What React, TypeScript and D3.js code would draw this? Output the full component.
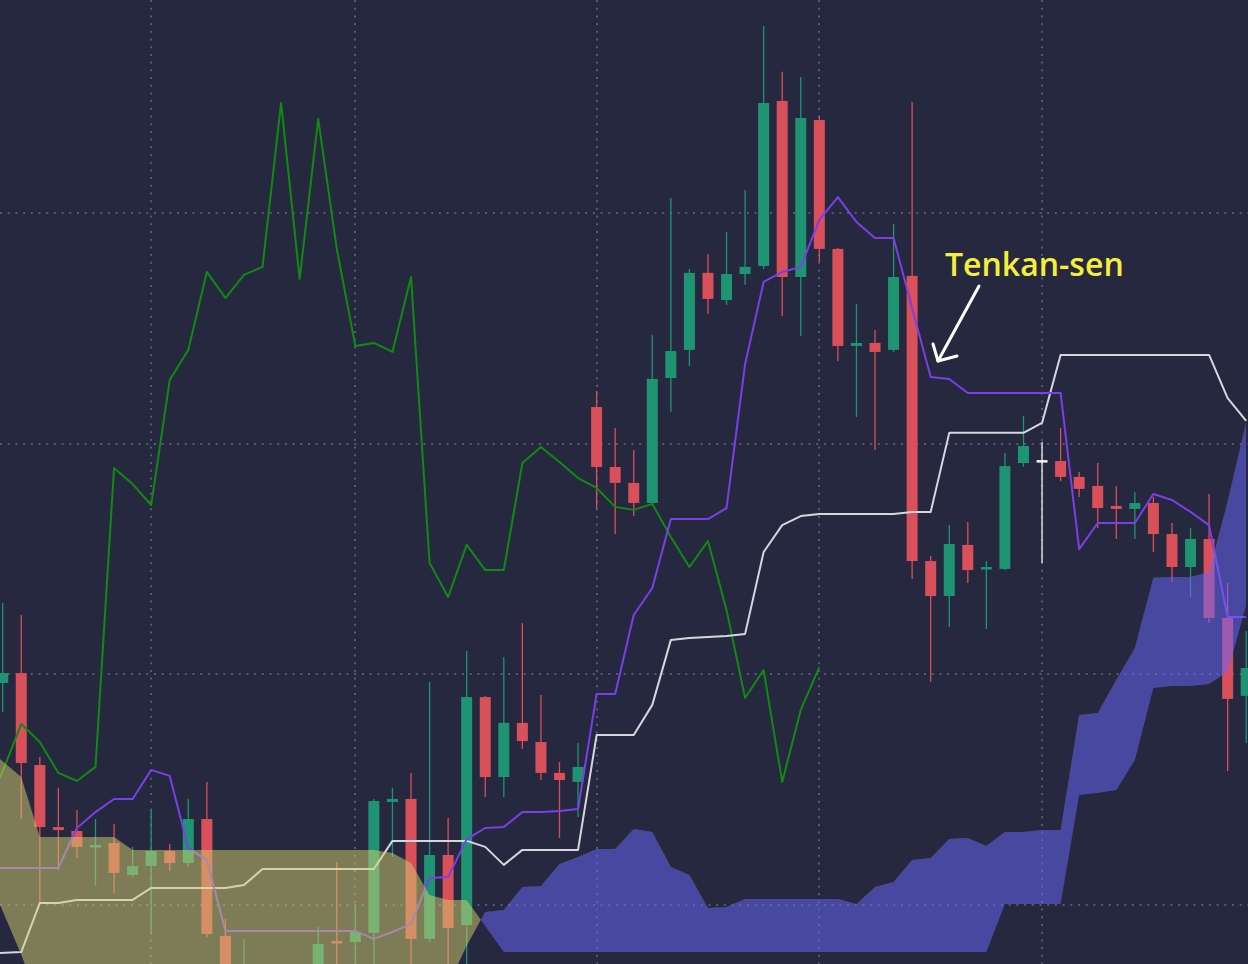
import React from "react";
import * as d3 from "d3";

const WIDTH = 1248;
const HEIGHT = 964;

// ---- OHLC data (68 candles) ----
const opens = [
  196.3, 200.6, 160.7, 133.8, 132.1, 125.6, 126.9, 113.0, 116.9, 123.4,
  118.2, 137.3, 86.6, 54.5, 67.5, 61.0, 63.1, 65.3, 84.4, 83.9,
  87.9, 144.7, 146.0, 85.3, 121.7, 91.3, 190.2, 155.5, 179.0, 170.7,
  157.3, 153.4, 316.0, 290.0, 283.1, 274.4, 328.6, 340.8, 374.2, 362.4,
  373.7, 377.2, 448.8, 372.4, 440.5, 384.6, 342.5, 343.8, 340.8, 372.9,
  249.2, 234.0, 256.2, 245.8, 245.8, 291.7, 292.6, 292.6, 285.7, 281.8,
  273.1, 271.8, 274.4, 260.9, 246.6, 258.8, 224.5, 190.7,
];
const highs = [
  231.0, 225.8, 164.2, 150.8, 141.2, 137.3, 135.1, 125.2, 141.2, 126.5,
  146.0, 153.4, 93.9, 85.3, 71.8, 70.9, 72.7, 90.5, 118.7, 100.0,
  146.0, 150.8, 157.3, 196.7, 137.7, 210.2, 190.7, 207.6, 222.3, 191.1,
  162.0, 170.3, 323.0, 306.9, 297.4, 347.3, 406.7, 375.9, 382.4, 391.9,
  410.2, 481.3, 461.4, 459.2, 442.3, 385.0, 360.7, 349.4, 395.4, 448.3,
  251.4, 264.8, 266.1, 249.2, 296.1, 312.1, 300.8, 306.9, 287.8, 291.7,
  281.8, 279.2, 277.0, 265.7, 263.5, 278.3, 239.7, 218.9,
];
const lows = [
  183.7, 137.3, 100.9, 115.2, 120.4, 108.2, 105.2, 112.1, 87.0, 114.7,
  116.5, 86.1, 24.0, 50.1, 56.6, 57.9, 25.0, 48.3, 56.1, 62.0,
  60.0, 120.8, 57.9, 83.9, 58.5, 63.1, 146.9, 146.9, 167.7, 154.2,
  129.1, 138.2, 271.8, 260.9, 268.7, 273.5, 313.9, 333.8, 356.4, 360.3,
  369.0, 375.9, 355.5, 346.8, 378.9, 336.0, 311.7, 297.4, 339.9, 241.4,
  196.7, 220.6, 239.7, 219.7, 245.3, 290.0, 248.4, 283.9, 277.0, 263.5,
  258.8, 258.8, 253.1, 240.1, 233.6, 222.3, 158.1, 170.3,
];
const closes = [
  200.6, 161.6, 133.8, 132.5, 125.2, 126.0, 113.9, 116.9, 123.4, 118.2,
  137.3, 87.4, 65.3, 69.6, 61.0, 66.6, 69.6, 83.1, 83.5, 88.3,
  145.1, 146.0, 85.3, 121.7, 90.0, 190.2, 155.5, 179.0, 171.1, 157.3,
  154.2, 159.9, 290.0, 283.1, 274.4, 328.2, 340.3, 374.2, 362.9, 373.7,
  376.8, 447.9, 372.4, 441.4, 384.6, 342.5, 343.8, 339.9, 372.4, 249.2,
  234.0, 256.6, 245.3, 246.6, 290.4, 299.1, 293.0, 285.7, 280.5, 272.2,
  271.8, 274.4, 260.9, 246.6, 258.8, 224.5, 189.4, 202.8,
];
const highlightedCandle = 56;

// ---- Ichimoku lines ----
const tenkan = [
  116.1, 116.1, 116.1, 116.1, 133.4, 140.3, 146.0, 146.0, 158.6, 156.0,
  124.7, 119.5, 88.7, 88.7, 88.7, 88.7, 88.7, 88.7, 88.7, 88.7,
  85.3, 88.3, 91.8, 111.7, 112.1, 128.6, 133.4, 133.8, 140.3, 140.3,
  140.8, 141.6, 191.5, 191.5, 225.8, 237.5, 267.4, 267.4, 267.4, 272.2,
  334.7, 370.3, 374.6, 376.8, 397.2, 407.1, 396.3, 389.3, 389.3, 359.0,
  329.0, 328.2, 322.1, 322.1, 322.1, 322.1, 322.1, 322.1, 254.4, 265.7,
  265.7, 265.7, 278.3, 275.7, 270.5, 264.8, 224.9, 224.9,
];
const kijun = [
  79.2, 79.6, 100.9, 100.9, 102.2, 102.2, 102.2, 102.2, 107.4, 107.4,
  107.4, 107.4, 107.4, 108.7, 115.6, 115.6, 115.6, 115.6, 115.6, 115.6,
  115.6, 127.8, 127.8, 127.8, 127.8, 127.8, 125.2, 117.4, 123.9, 123.9,
  123.9, 123.9, 173.7, 173.7, 173.7, 186.8, 215.0, 215.8, 216.3, 216.7,
  217.6, 253.1, 264.8, 268.7, 269.6, 269.6, 269.6, 269.6, 269.6, 270.5,
  270.5, 304.8, 304.8, 304.8, 304.8, 304.8, 309.1, 338.6, 338.6, 338.6,
  338.6, 338.6, 338.6, 338.6, 338.6, 338.6, 319.9, 310.0,
];
const chikou = [
  155.1, 178.5, 170.7, 157.3, 153.8, 159.9, 289.6, 282.6, 273.5, 327.7,
  340.8, 374.6, 363.3, 373.3, 376.8, 447.9, 371.6, 441.0, 384.6, 342.5,
  343.8, 339.9, 372.4, 248.4, 233.6, 256.2, 245.3, 245.3, 291.7, 298.7,
  292.2, 285.2, 280.9, 272.7, 271.4, 274.0, 259.6, 246.6, 257.9, 228.0,
  189.8, 201.9, 153.4, 184.6, 203.2,
];
const spanA = [
  100.0, 78.3, 56.6, 50.1, 45.8, 41.4, 39.3, 37.1, 37.1, 39.3,
  41.4, 39.3, 37.1, 37.1, 39.3, 41.4, 43.6, 45.8, 45.8, 47.9,
  50.1, 52.3, 54.5, 58.8, 65.3, 82.2, 97.0, 97.8, 107.8, 108.2,
  117.8, 120.8, 124.3, 124.3, 133.0, 131.7, 116.5, 113.0, 98.7, 99.1,
  102.6, 102.6, 102.6, 102.6, 102.6, 102.6, 100.4, 107.8, 110.0, 119.5,
  120.4, 128.6, 129.1, 125.6, 131.7, 131.7, 132.5, 132.5, 182.4, 183.3,
  197.6, 211.5, 241.9, 242.3, 242.3, 244.5, 275.0, 309.5,
];
const spanB = [
  163.3, 155.5, 129.5, 129.5, 129.5, 129.5, 129.5, 123.9, 123.9, 123.9,
  123.9, 123.9, 123.9, 123.9, 123.9, 123.9, 123.9, 123.9, 123.9, 123.9,
  123.9, 122.6, 118.2, 104.3, 102.2, 102.2, 90.9, 79.6, 79.6, 79.6,
  79.6, 79.6, 79.6, 79.6, 79.6, 79.6, 79.6, 79.6, 79.6, 79.6,
  79.6, 79.6, 79.6, 79.6, 79.6, 79.6, 79.6, 79.6, 79.6, 79.6,
  79.6, 79.6, 79.6, 79.6, 100.4, 100.4, 100.4, 100.4, 147.7, 148.6,
  149.9, 162.9, 194.1, 195.0, 195.0, 195.9, 201.1, 230.1,
];

// ---- grid ----
const gridCandles = [8, 19, 32, 44, 56];
const gridPrices = [100, 200, 300, 400];

const annotationLabel = "Tenkan-sen";

const COLORS = {
  bg: "#26283f",
  grid: "#565970",
  up: "#1e9473",
  down: "#d94f5a",
  highlight: "#f4f4f4",
  chikou: "#108a10",
  tenkan: "#7b3fe6",
  kijun: "#d6d6de",
  bullCloud: "rgba(212,207,111,0.5)",
  bearCloud: "rgba(104,102,252,0.52)",
  label: "#f3ef3b",
};

export default function App() {
  const n = opens.length;
  const idx = d3.range(n);
  const x = d3.scaleLinear().domain([0, n - 1]).range([2.7, 1246.2]);
  const y = d3.scaleLinear().domain([100, 400]).range([905, 213.4]);
  const bodyW = 11;
  // series that run off the left edge of the plot start at the frame edge
  const xe = (i: number) => (i === 0 ? 0 : x(i));

  const line = d3
    .line<number>()
    .x((_, i) => xe(i))
    .y((v) => y(v));

  const cloud = d3
    .area<number>()
    .x((i) => xe(i))
    .y0((i) => y(spanA[i]))
    .y1((i) => y(spanB[i]));
  const regionAboveA = d3
    .area<number>()
    .x((i) => xe(i))
    .y0(-100)
    .y1((i) => y(spanA[i]));
  const regionBelowA = d3
    .area<number>()
    .x((i) => xe(i))
    .y0((i) => y(spanA[i]))
    .y1(HEIGHT + 100);

  return (
    <div>
      <style>{`body{margin:0;background:${COLORS.bg};overflow:hidden}`}</style>
      <svg width={WIDTH} height={HEIGHT} style={{ display: "block" }}>
        <defs>
          <clipPath id="aboveA">
            <path d={regionAboveA(idx) || ""} />
          </clipPath>
          <clipPath id="belowA">
            <path d={regionBelowA(idx) || ""} />
          </clipPath>
        </defs>
        <rect width={WIDTH} height={HEIGHT} fill={COLORS.bg} />

        {/* grid */}
        <g stroke={COLORS.grid} strokeWidth={2} strokeDasharray="2 5.7">
          {gridPrices.map((p) => (
            <line key={"h" + p} x1={0} x2={WIDTH} y1={Math.round(y(p))} y2={Math.round(y(p))} />
          ))}
          {gridCandles.map((c) => (
            <line key={"v" + c} x1={Math.round(x(c))} x2={Math.round(x(c))} y1={0} y2={HEIGHT} />
          ))}
        </g>

        {/* candles */}
        <g>
          {idx.map((i) => {
            const up = closes[i] >= opens[i];
            const col = i === highlightedCandle ? COLORS.highlight : up ? COLORS.up : COLORS.down;
            const cx = x(i);
            const top = y(Math.max(opens[i], closes[i]));
            const bot = y(Math.min(opens[i], closes[i]));
            const h = Math.max(bot - top, 2.5);
            return (
              <g key={i}>
                <line x1={cx} x2={cx} y1={y(highs[i])} y2={y(lows[i])} stroke={col} strokeWidth={1.3} />
                <rect x={cx - bodyW / 2} y={top} width={bodyW} height={h} fill={col} />
              </g>
            );
          })}
        </g>

        {/* lines */}
        <path d={line(chikou) || ""} fill="none" stroke={COLORS.chikou} strokeWidth={2} strokeLinejoin="round" />
        <path d={line(kijun) || ""} fill="none" stroke={COLORS.kijun} strokeWidth={2} strokeLinejoin="round" />
        <path d={line(tenkan) || ""} fill="none" stroke={COLORS.tenkan} strokeWidth={2} strokeLinejoin="round" />

        {/* cloud */}
        <path d={cloud(idx) || ""} fill={COLORS.bullCloud} clipPath="url(#aboveA)" />
        <path d={cloud(idx) || ""} fill={COLORS.bearCloud} clipPath="url(#belowA)" />

        {/* annotation */}
        <text
          x={945}
          y={276}
          fill={COLORS.label}
          fontFamily="'Open Sans', sans-serif"
          fontWeight={600}
          fontSize={32}
        >
          {annotationLabel}
        </text>
        <g fill="none" stroke="#ffffff" strokeWidth={3} strokeLinecap="round" strokeLinejoin="round">
          <path d="M979,286 L938,361" />
          <path d="M933,344 L938,361 L957,356" />
        </g>
      </svg>
    </div>
  );
}
